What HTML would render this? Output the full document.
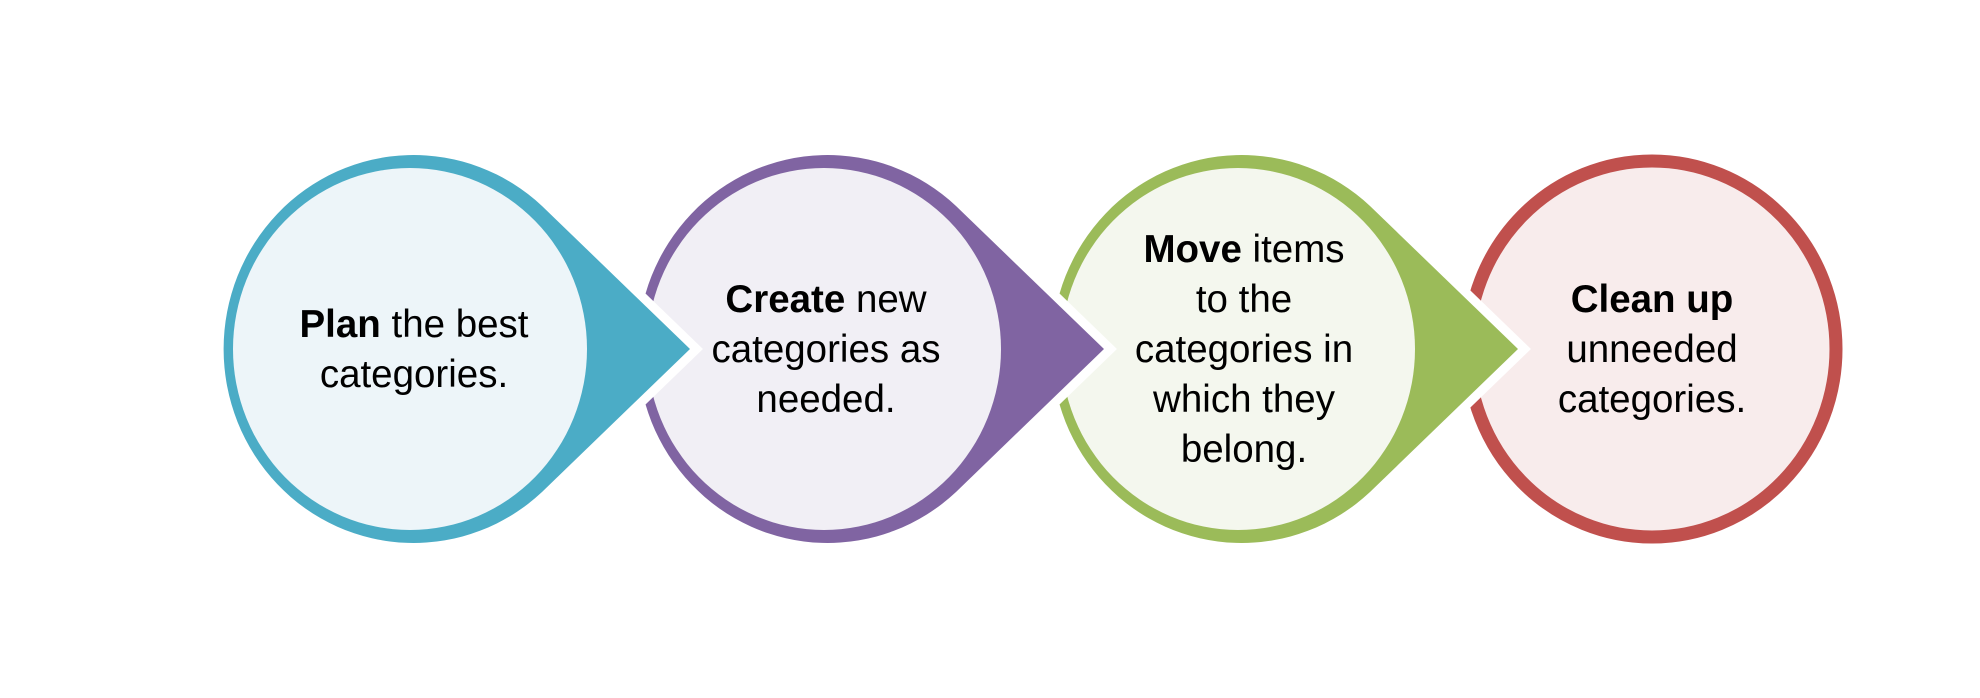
<!DOCTYPE html>
<html><head><meta charset="utf-8"><style>
html,body{margin:0;padding:0;background:#fff;}
.wrap{position:relative;width:1980px;height:698px;overflow:hidden;}
.t{position:absolute;width:380px;text-align:center;font-family:"Liberation Sans",sans-serif;font-size:38.5px;line-height:50px;color:#000;transform:translate(-50%,-50%);}
</style></head><body><div class="wrap">
<svg width="1980" height="698" style="position:absolute;left:0;top:0">
<!-- shape 4 -->
<ellipse cx="1652" cy="349" rx="184" ry="188" fill="#F8ECEC" stroke="#C0504D" stroke-width="13"/>
<!-- shape 3 -->
<path d="M1370 206 L1518 349 L1370 492" fill="#fff" stroke="#fff" stroke-width="18"/>
<path d="M1518 349 L1370 206 A190 194 0 1 0 1370 492 Z" fill="#9BBB59"/>
<ellipse cx="1238" cy="349" rx="177" ry="181" fill="#F4F7EE"/>
<!-- shape 2 -->
<path d="M956 206 L1104 349 L956 492" fill="#fff" stroke="#fff" stroke-width="18"/>
<path d="M1104 349 L956 206 A190 194 0 1 0 956 492 Z" fill="#8064A2"/>
<ellipse cx="824" cy="349" rx="177" ry="181" fill="#F1EFF5"/>
<!-- shape 1 -->
<path d="M542 206 L690 349 L542 492" fill="#fff" stroke="#fff" stroke-width="18"/>
<path d="M690 349 L542 206 A190 194 0 1 0 542 492 Z" fill="#4BACC6"/>
<ellipse cx="410" cy="349" rx="177" ry="181" fill="#EDF5F9"/>
</svg>
<div class="t" style="left:414px;top:350px"><b>Plan</b> the best<br>categories.</div>
<div class="t" style="left:826px;top:350px"><b>Create</b> new<br>categories as<br>needed.</div>
<div class="t" style="left:1244px;top:350px"><b>Move</b> items<br>to the<br>categories in<br>which they<br>belong.</div>
<div class="t" style="left:1652px;top:350px"><b>Clean up</b><br>unneeded<br>categories.</div>
</div></body></html>
